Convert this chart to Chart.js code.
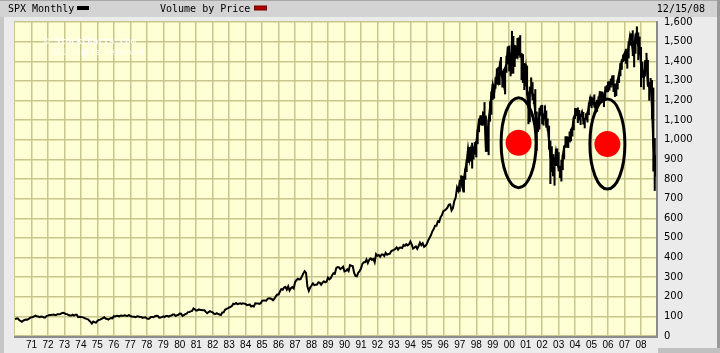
<!DOCTYPE html>
<html>
<head>
<meta charset="utf-8">
<script src="https://cdn.jsdelivr.net/npm/chart.js@4/dist/chart.umd.min.js"></script>
<style>
  html, body { margin: 0; padding: 0; background: #ebebeb; }
  #wrap { width: 720px; height: 353px; position: relative; }
</style>
</head>
<body>
<div id="wrap"><canvas id="c" width="720" height="353"></canvas></div>
<script>
// ---------------- DATA ----------------
const seriesName = "SPX Monthly";
const overlayName = "Volume by Price";
const dateLabel = "12/15/08";
const startYear = 1970;
// SPX monthly closes, Jan 1970 .. Dec 2008 (Dec = 12/15/08)
const spx1970s = [
  85.0, 89.5, 89.6, 81.5, 76.6, 72.7, 78.1, 81.5, 84.3, 83.3, 87.2, 92.2,
  95.9, 96.8, 100.3, 103.9, 99.6, 99.7, 95.6, 99.0, 98.3, 94.2, 94.0, 102.1,
  103.9, 106.6, 107.2, 107.7, 109.5, 107.1, 107.4, 111.1, 110.6, 111.6, 116.7, 118.1,
  116.0, 111.7, 111.5, 107.0, 105.0, 104.3, 108.2, 104.3, 108.4, 108.3, 96.0, 97.6,
  96.6, 96.2, 94.0, 90.3, 87.3, 86.0, 79.3, 72.2, 63.5, 73.9, 70.0, 68.6,
  77.0, 81.6, 83.4, 87.3, 91.2, 95.2, 88.8, 86.9, 83.9, 89.0, 91.2, 90.2,
  100.9, 99.7, 102.8, 101.6, 100.2, 104.3, 103.4, 102.9, 105.2, 102.9, 102.1, 107.5,
  102.0, 99.8, 98.4, 98.4, 96.1, 100.5, 98.9, 96.8, 96.5, 92.3, 94.8, 95.1,
  89.3, 87.0, 89.2, 96.8, 97.2, 95.5, 100.7, 103.3, 102.5, 93.2, 94.7, 96.1,
  99.9, 96.3, 101.6, 101.8, 99.1, 102.9, 103.8, 109.3, 109.3, 101.8, 106.2, 107.9
];
const spx1980s = [
  114.2, 113.7, 102.1, 106.3, 111.2, 114.2, 121.7, 122.4, 125.5, 127.5, 140.5, 135.8,
  129.5, 131.3, 136.0, 132.8, 132.6, 131.2, 130.9, 122.8, 116.2, 121.9, 126.4, 122.6,
  120.4, 113.1, 112.0, 116.4, 111.9, 109.6, 107.1, 119.5, 120.4, 133.7, 138.5, 140.6,
  145.3, 148.1, 153.0, 164.4, 162.4, 168.1, 162.6, 164.4, 166.1, 163.6, 166.4, 164.9,
  163.4, 157.1, 159.2, 160.1, 150.6, 153.2, 150.7, 166.7, 166.1, 166.1, 163.6, 167.2,
  179.6, 181.2, 180.7, 179.8, 189.6, 191.9, 190.9, 188.6, 182.1, 189.8, 202.2, 211.3,
  211.8, 226.9, 238.9, 235.5, 247.4, 250.8, 236.1, 252.9, 231.3, 244.0, 249.2, 242.2,
  274.1, 284.2, 291.7, 288.4, 290.1, 304.0, 318.7, 329.8, 321.8, 251.8, 230.3, 247.1,
  257.1, 267.8, 258.9, 261.3, 262.2, 273.5, 272.0, 261.5, 271.9, 279.0, 273.7, 277.7,
  297.5, 288.9, 294.9, 309.6, 320.5, 318.0, 346.1, 351.5, 349.2, 340.4, 346.0, 353.4
];
const spx1990s = [
  329.1, 331.9, 339.9, 330.8, 361.2, 358.0, 356.2, 322.6, 306.1, 304.0, 322.2, 330.2,
  343.9, 367.1, 375.2, 375.3, 389.8, 371.2, 387.8, 395.4, 387.9, 392.5, 375.2, 417.1,
  408.8, 412.7, 403.7, 415.0, 415.4, 408.1, 424.2, 414.0, 417.8, 418.7, 431.4, 435.7,
  438.8, 443.4, 451.7, 440.2, 450.2, 450.5, 448.1, 463.6, 458.9, 467.8, 461.8, 466.5,
  481.6, 467.1, 445.8, 450.9, 456.5, 444.3, 458.3, 475.5, 462.7, 472.4, 453.7, 459.3,
  470.4, 487.4, 500.7, 514.7, 533.4, 544.8, 562.1, 561.9, 584.4, 581.5, 605.4, 615.9,
  636.0, 640.4, 645.5, 654.2, 669.1, 670.6, 640.0, 652.0, 687.3, 705.3, 757.0, 740.7,
  786.2, 791.0, 757.1, 801.3, 848.3, 885.1, 954.3, 899.5, 947.3, 914.6, 955.4, 970.4,
  980.3, 1049.3, 1101.8, 1111.8, 1090.8, 1133.8, 1120.7, 957.3, 1017.0, 1098.7, 1163.6, 1229.2,
  1279.6, 1238.3, 1286.4, 1335.2, 1301.8, 1372.7, 1328.7, 1320.4, 1282.7, 1362.9, 1388.9, 1469.3
];
const spx2000s = [
  1394.5, 1366.4, 1498.6, 1452.4, 1420.6, 1454.6, 1430.8, 1517.7, 1436.5, 1429.4, 1315.2, 1320.3,
  1366.0, 1239.9, 1160.3, 1249.5, 1255.8, 1224.4, 1211.2, 1133.6, 1040.9, 1059.8, 1139.5, 1148.1,
  1130.2, 1106.7, 1147.4, 1076.9, 1067.1, 989.8, 911.6, 916.1, 815.3, 885.8, 936.3, 879.8,
  855.7, 841.2, 848.2, 916.9, 963.6, 974.5, 990.3, 1008.0, 996.0, 1050.7, 1058.2, 1111.9,
  1131.1, 1144.9, 1126.2, 1107.3, 1120.7, 1140.8, 1101.7, 1104.2, 1114.6, 1130.2, 1173.8, 1211.9,
  1181.3, 1203.6, 1180.6, 1156.9, 1191.5, 1191.3, 1234.2, 1220.3, 1228.8, 1207.0, 1249.5, 1248.3,
  1280.1, 1280.7, 1294.9, 1310.6, 1270.1, 1270.2, 1276.7, 1303.8, 1335.9, 1377.9, 1400.6, 1418.3,
  1438.2, 1406.8, 1420.9, 1482.4, 1530.6, 1503.4, 1455.3, 1474.0, 1526.8, 1549.4, 1481.1, 1468.4,
  1378.6, 1330.6, 1322.7, 1385.6, 1400.4, 1280.0, 1267.4, 1282.8, 1166.4, 968.8, 896.2, 868.6
];
// Monthly high / low, Jan 1997 .. Dec 2008
const rangeStartYear = 1997;
const spxHigh9708 = [
  794.7, 817.0, 814.0, 812.0, 851.0, 898.0, 955.0, 961.0, 960.0, 983.0, 960.0, 986.0,
  992.0, 1050.0, 1106.0, 1123.0, 1122.0, 1141.0, 1190.0, 1121.0, 1067.0, 1100.0, 1193.0, 1244.0,
  1283.0, 1276.0, 1317.0, 1362.0, 1368.0, 1372.0, 1420.0, 1351.0, 1361.0, 1368.0, 1426.0, 1474.0,
  1478.0, 1444.0, 1553.0, 1527.0, 1482.0, 1478.0, 1517.0, 1520.0, 1531.0, 1441.0, 1434.0, 1389.0,
  1384.0, 1376.0, 1244.0, 1269.0, 1316.0, 1292.0, 1234.0, 1256.0, 1142.0, 1111.0, 1161.0, 1173.0,
  1176.0, 1131.0, 1173.0, 1147.0, 1107.0, 1070.0, 994.0, 965.0, 925.0, 902.0, 952.0, 954.0,
  935.0, 865.0, 895.0, 924.0, 968.0, 1016.0, 1016.0, 1011.0, 1040.0, 1054.0, 1063.0, 1112.0,
  1160.0, 1159.0, 1163.0, 1150.0, 1127.0, 1146.0, 1140.0, 1109.0, 1133.0, 1142.0, 1188.0, 1217.0,
  1218.0, 1212.0, 1229.0, 1192.0, 1202.0, 1219.0, 1245.0, 1245.0, 1243.0, 1233.0, 1270.0, 1276.0,
  1295.0, 1297.0, 1310.0, 1326.0, 1327.0, 1284.0, 1284.0, 1306.0, 1340.0, 1390.0, 1407.0, 1432.0,
  1441.0, 1462.0, 1438.0, 1499.0, 1533.0, 1541.0, 1556.0, 1503.0, 1539.0, 1576.0, 1545.0, 1524.0,
  1471.0, 1396.0, 1353.0, 1404.0, 1441.0, 1405.0, 1293.0, 1313.0, 1303.0, 1264.0, 1007.0, 919.0
];
const spxLow9708 = [
  737.0, 773.0, 756.0, 733.0, 798.0, 837.0, 884.0, 893.0, 891.0, 855.0, 901.0, 926.0,
  912.0, 979.0, 1040.0, 1076.0, 1074.0, 1074.0, 1111.0, 940.0, 940.0, 923.0, 1094.0, 1129.0,
  1205.0, 1212.0, 1262.0, 1283.0, 1282.0, 1281.0, 1328.0, 1268.0, 1268.0, 1233.0, 1343.0, 1387.0,
  1350.0, 1325.0, 1339.0, 1339.0, 1373.0, 1415.0, 1416.0, 1431.0, 1420.0, 1306.0, 1291.0, 1255.0,
  1274.0, 1228.0, 1081.0, 1091.0, 1242.0, 1203.0, 1183.0, 1130.0, 945.0, 1041.0, 1054.0, 1124.0,
  1081.0, 1074.0, 1108.0, 1063.0, 1048.0, 952.0, 776.0, 837.0, 815.0, 768.0, 868.0, 870.0,
  841.0, 806.0, 789.0, 847.0, 902.0, 960.0, 962.0, 960.0, 990.0, 994.0, 1018.0, 1050.0,
  1108.0, 1122.0, 1087.0, 1102.0, 1077.0, 1118.0, 1079.0, 1060.0, 1101.0, 1090.0, 1127.0, 1173.0,
  1163.0, 1180.0, 1166.0, 1137.0, 1144.0, 1188.0, 1192.0, 1201.0, 1201.0, 1168.0, 1202.0, 1243.0,
  1245.0, 1253.0, 1268.0, 1280.0, 1245.0, 1220.0, 1224.0, 1258.0, 1291.0, 1325.0, 1358.0, 1398.0,
  1403.0, 1389.0, 1364.0, 1416.0, 1481.0, 1484.0, 1428.0, 1371.0, 1440.0, 1489.0, 1407.0, 1436.0,
  1270.0, 1317.0, 1257.0, 1324.0, 1373.0, 1272.0, 1201.0, 1248.0, 1106.0, 840.0, 741.0, 815.0
];
const yTickValues = [0,100,200,300,400,500,600,700,800,900,1000,1100,1200,1300,1400,1500,1600];
const xTickYears = [1971,1972,1973,1974,1975,1976,1977,1978,1979,1980,1981,1982,1983,1984,1985,1986,1987,1988,1989,1990,1991,1992,1993,1994,1995,1996,1997,1998,1999,2000,2001,2002,2003,2004,2005,2006,2007,2008];
// Volume-by-price markers (year position, price level)
const markerYears = [2000.57, 2005.96];
const markerLevels = [985, 978];

// ---------------- BUILD ----------------
const allCloses = [].concat(spx1970s, spx1980s, spx1990s, spx2000s);
const linePoints = allCloses.map((v, i) => ({ x: startYear + i / 12, y: v }));
const rangePoints = spxHigh9708.map((h, i) => ({ x: rangeStartYear + i / 12, y: [spxLow9708[i], h] }));
const markerPoints = markerYears.map((x, i) => ({ x: x, y: markerLevels[i] }));

const bgPlugin = {
  id: 'bg',
  beforeDraw(chart) {
    const ctx = chart.ctx, a = chart.chartArea;
    ctx.save();
    ctx.fillStyle = '#ebebeb';
    ctx.fillRect(0, 0, 720, 353);
    ctx.fillStyle = '#d3d3d3';
    ctx.fillRect(0, 0, 720, 17);
    ctx.fillStyle = '#a8a8a8';
    ctx.fillRect(0, 0, 720, 1);
    ctx.fillStyle = '#c6c6c6';
    ctx.fillRect(0, 17, 4, 336);
    ctx.fillStyle = '#9a9a9a';
    ctx.fillRect(717, 0, 3, 353);
    ctx.fillStyle = '#c0c0c0';
    ctx.fillRect(658, 348, 62, 5);
    ctx.fillStyle = '#ffffd6';
    ctx.fillRect(a.left, a.top, a.right - a.left, a.bottom - a.top);
    ctx.restore();
  },
  afterDraw(chart) {
    const ctx = chart.ctx, a = chart.chartArea;
    ctx.save();
    ctx.strokeStyle = '#c8c68c';
    ctx.lineWidth = 1;
    ctx.strokeRect(a.left - 0.5, a.top - 0.5, a.right - a.left + 1, a.bottom - a.top + 1);
    ctx.strokeStyle = '#8c8c8c';
    ctx.lineWidth = 2;
    ctx.beginPath();
    ctx.moveTo(a.left - 1, a.bottom + 1);
    ctx.lineTo(a.right + 1, a.bottom + 1);
    ctx.lineTo(a.right + 1, a.top - 1);
    ctx.stroke();
    ctx.font = '10px "DejaVu Sans Mono"';
    ctx.fillStyle = '#000';
    ctx.textBaseline = 'middle';
    ctx.textAlign = 'left';
    ctx.fillText(seriesName, 8, 9);
    ctx.fillRect(77, 6, 12, 4);
    ctx.fillText(overlayName, 160, 9);
    ctx.fillStyle = '#7a0000';
    ctx.fillRect(254, 5.5, 13, 5);
    ctx.fillStyle = '#b00000';
    ctx.fillRect(255, 6.5, 11, 3);
    ctx.fillStyle = '#000';
    ctx.textAlign = 'right';
    ctx.fillText(dateLabel, 705, 9);
    ctx.font = 'bold 9px "DejaVu Sans Mono"';
    ctx.fillStyle = 'rgba(255,255,255,0.95)';
    ctx.textAlign = 'left';
    ctx.fillText('\u00A9 StockCharts.com', 44, 42);
    ctx.font = '8px "DejaVu Sans Mono"';
    ctx.fillText('All rights reserved', 52, 53);
    const xs = chart.scales.x, ys = chart.scales.y;
    ctx.strokeStyle = '#000';
    ctx.lineWidth = 3;
    markerYears.forEach((yr, i) => {
      const cx = xs.getPixelForValue(yr), cy = ys.getPixelForValue(markerLevels[i]);
      ctx.beginPath();
      ctx.ellipse(cx, cy, 17.5, 45, 0, 0, Math.PI * 2);
      ctx.stroke();
    });
    ctx.restore();
  }
};

new Chart(document.getElementById('c'), {
  type: 'line',
  data: {
    datasets: [
      {
        type: 'scatter',
        label: 'Volume by Price',
        data: markerPoints,
        showLine: false,
        pointRadius: 13,
        pointHoverRadius: 13,
        backgroundColor: '#ff0000',
        borderWidth: 0,
        order: 0
      },
      {
        type: 'bar',
        label: 'SPX range',
        data: rangePoints,
        backgroundColor: '#000',
        borderWidth: 0,
        barThickness: 1.4,
        grouped: false,
        order: 1
      },
      {
        type: 'line',
        label: seriesName,
        data: linePoints,
        borderColor: '#000',
        borderWidth: 2,
        pointRadius: 0,
        tension: 0,
        fill: false,
        order: 2
      }
    ]
  },
  options: {
    responsive: false,
    animation: false,
    events: [],
    layout: { padding: { left: 15, top: 22, right: 0, bottom: 0 } },
    plugins: { legend: { display: false }, tooltip: { enabled: false } },
    scales: {
      x: {
        type: 'linear',
        offset: false,
        min: 1970,
        max: 2008.91,
        afterFit(s) { s.height = 17; },
        afterBuildTicks(s) { s.ticks = xTickYears.map(v => ({ value: v })); },
        grid: { color: '#c8c68c', lineWidth: 1.5, drawTicks: false, offset: false },
        border: { display: false },
        ticks: {
          autoSkip: false,
          maxRotation: 0,
          padding: 3,
          color: '#000',
          font: { family: '"Liberation Sans"', size: 10 },
          callback: v => String(v % 100).padStart(2, '0')
        }
      },
      y: {
        position: 'right',
        min: 0,
        max: 1600,
        afterFit(s) { s.width = 64; },
        afterBuildTicks(s) { s.ticks = yTickValues.map(v => ({ value: v })); },
        grid: { color: '#c8c68c', lineWidth: 1.5, drawTicks: false },
        border: { display: false },
        ticks: {
          padding: 8,
          color: '#000',
          font: { family: '"DejaVu Sans"', size: 10 },
          callback: v => v.toLocaleString('en-US')
        }
      }
    }
  },
  plugins: [bgPlugin]
});
</script>
</body>
</html>
